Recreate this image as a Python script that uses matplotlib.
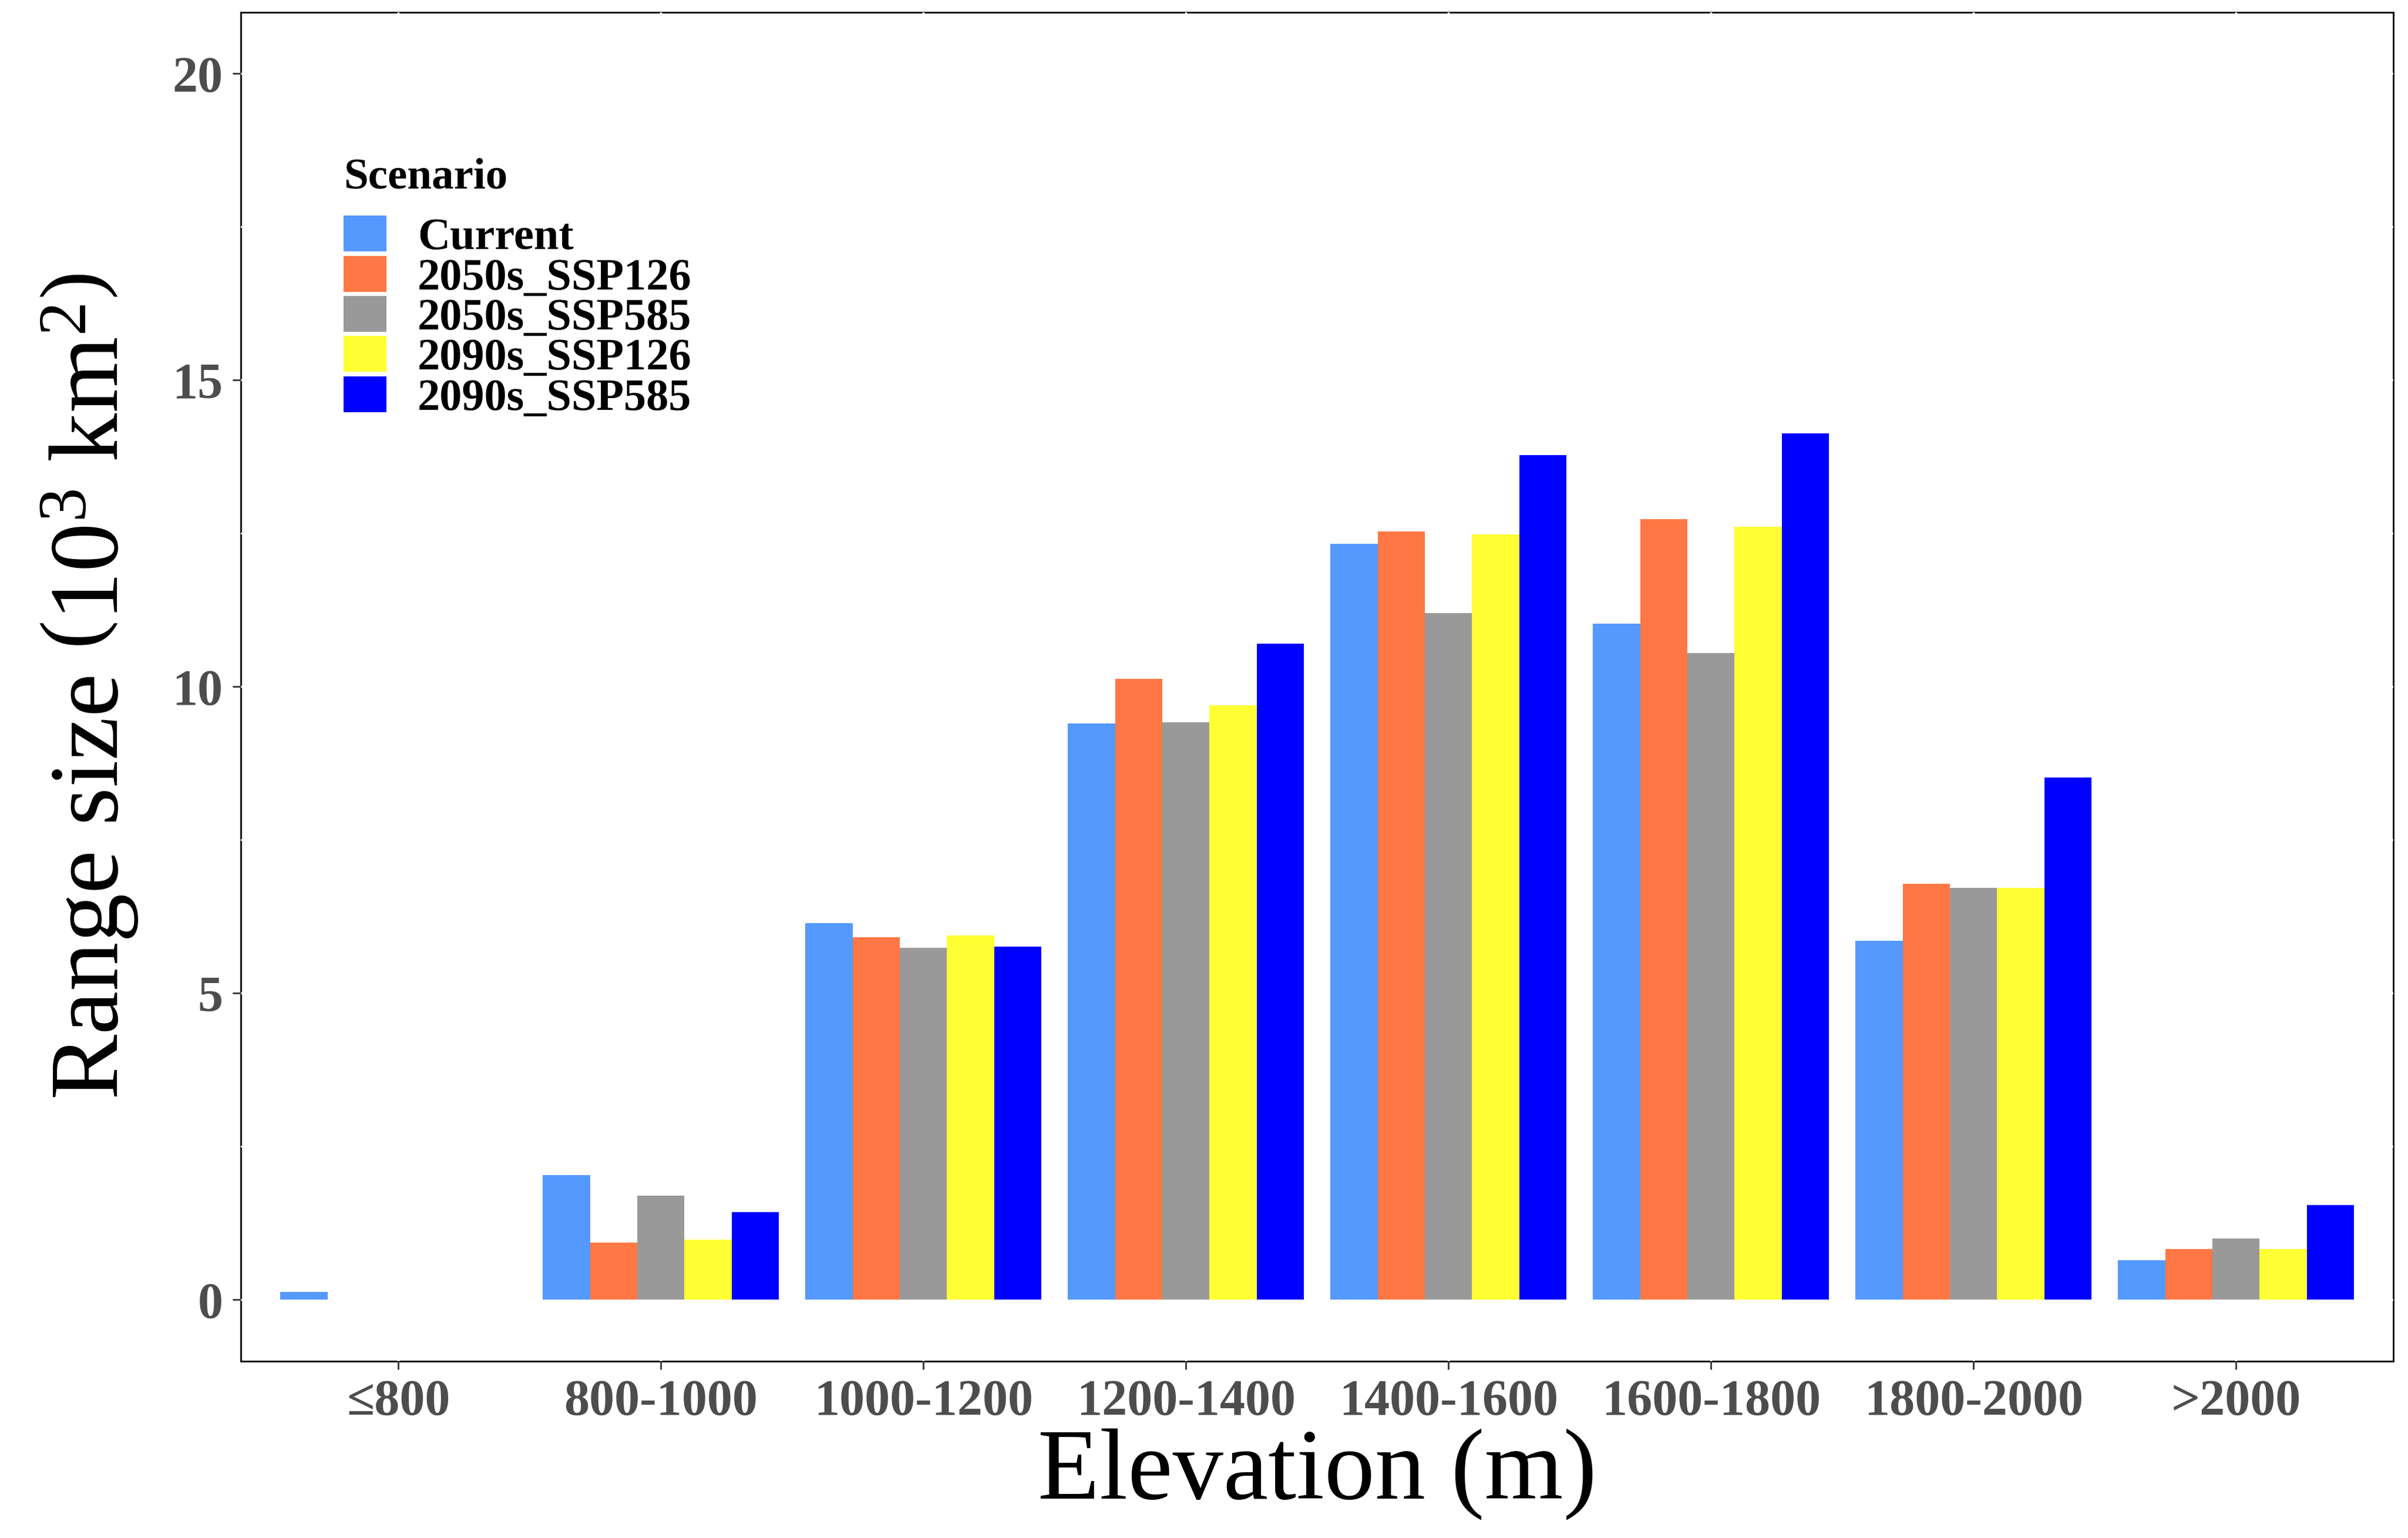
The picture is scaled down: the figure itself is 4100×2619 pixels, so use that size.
import numpy as np
import matplotlib
matplotlib.use("Agg")
import matplotlib.pyplot as plt
from matplotlib.ticker import MultipleLocator

elevations = ["≤800", "800-1000", "1000-1200", "1200-1400", "1400-1600", "1600-1800", "1800-2000", ">2000"]
scenarios = ["Current", "2050s_SSP126", "2050s_SSP585", "2090s_SSP126", "2090s_SSP585"]
colors = ["#5599FF", "#FF7744", "#999999", "#FFFF33", "#0000FF"]

current = [0.13, 2.03, 6.14, 9.40, 12.33, 11.03, 5.86, 0.65]
s2050_126 = [0.0, 0.93, 5.91, 10.13, 12.53, 12.73, 6.79, 0.83]
s2050_585 = [0.0, 1.70, 5.74, 9.42, 11.20, 10.55, 6.72, 1.00]
s2090_126 = [0.0, 0.98, 5.94, 9.70, 12.48, 12.61, 6.72, 0.83]
s2090_585 = [0.0, 1.43, 5.76, 10.70, 13.78, 14.13, 8.52, 1.55]
values = [current, s2050_126, s2050_585, s2090_126, s2090_585]

plt.rcParams["font.family"] = ["Liberation Serif", "DejaVu Serif"]
plt.rcParams["mathtext.fontset"] = "custom"
plt.rcParams["mathtext.rm"] = "Liberation Serif"
plt.rcParams["mathtext.it"] = "Liberation Serif:italic"
plt.rcParams["mathtext.bf"] = "Liberation Serif:bold"

fig = plt.figure(figsize=(41, 26.19), dpi=100)
ax = fig.add_axes([0.100, 0.115, 0.894, 0.877])

x = np.arange(1, len(elevations) + 1)
w = 0.18
for i, (name, vals) in enumerate(zip(scenarios, values)):
    ax.bar(x + (i - 2) * w, vals, width=w, color=colors[i], label=name, zorder=1)

ax.set_xlim(0.4, 8.6)
ax.set_ylim(-1, 21)
ax.set_xticks(x)
ax.set_xticklabels(elevations)
ax.yaxis.set_major_locator(MultipleLocator(5))
ax.yaxis.set_minor_locator(MultipleLocator(2.5))

# white grid like ggplot, visible only where it crosses the border
ax.set_axisbelow(True)
ax.grid(True, which="major", color="white", linewidth=2.5)
ax.grid(True, which="minor", axis="y", color="white", linewidth=2.0)
for s in ax.spines.values():
    s.set_linewidth(2.0)
    s.set_color("black")
    s.set_zorder(0.4)

ax.tick_params(axis="both", which="major", length=10, width=2, color="#333333",
               labelsize=62, labelcolor="#4D4D4D", pad=12)
ax.tick_params(axis="y", which="minor", length=0)
for lab in ax.get_xticklabels() + ax.get_yticklabels():
    lab.set_fontweight("bold")

ax.set_xlabel("Elevation (m)", fontsize=124, labelpad=4)
ax.set_ylabel(r"Range size $\left(10^3\ \mathrm{km}^2\right)$", fontsize=120, labelpad=40)

leg = ax.legend(loc="upper left", bbox_to_anchor=(0.029, 0.922), frameon=False,
                title="Scenario", prop={"weight": "bold", "size": 55},
                handlelength=0.95, handleheight=0.85, labelspacing=-0.06,
                handletextpad=0.7, alignment="left")
leg.get_title().set_fontsize(54)
leg.get_title().set_fontweight("bold")
leg._legend_box.sep = 22

fig.savefig("out.png", dpi=100)
